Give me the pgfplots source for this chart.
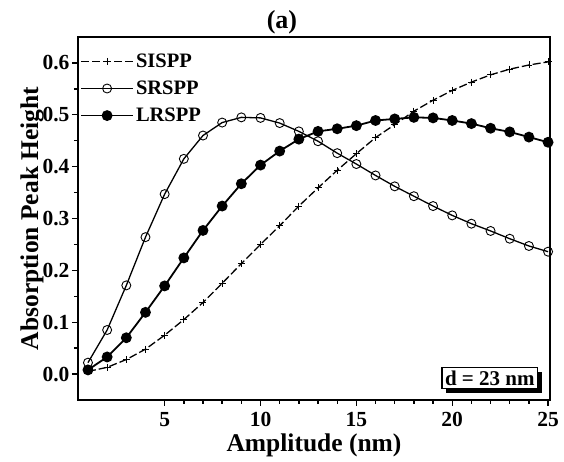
\documentclass[border=0pt]{standalone}
\usepackage{pgfplots}
\pgfplotsset{compat=1.18}
\usepackage{fontspec}
\setmainfont{Liberation Serif}
\usetikzlibrary{shadows}
\begin{document}
\begin{tikzpicture}
\path[use as bounding box] (-78pt,-62pt) rectangle (486pt,400pt);
\begin{axis}[
  at={(0pt,0pt)}, anchor=south west,
  scale only axis, width=472pt, height=363pt,
  xmin=0.48, xmax=25.1, ymin=-0.05, ymax=0.65,
  xtick={5,10,15,20,25}, minor x tick num=4,
  ytick={0,0.1,0.2,0.3,0.4,0.5,0.6}, minor y tick num=1,
  tick pos=left, tick align=outside,
  major tick length=6pt, minor tick length=4pt,
  axis line style={line width=1.8pt},
  every tick/.style={line width=1.4pt, black},
  /pgf/number format/assume math mode=true,
  yticklabel style={/pgf/number format/fixed, /pgf/number format/precision=1, /pgf/number format/fixed zerofill, xshift=1pt},
  xticklabel style={yshift=-3pt},
  ticklabel style={font=\fontsize{21.5}{21.5}\selectfont\bfseries},
  xlabel={Amplitude (nm)}, ylabel={Absorption Peak Height},
  label style={font=\fontsize{25.5}{25.5}\selectfont\bfseries},
  xlabel style={yshift=0pt},
  ylabel style={yshift=-8pt},
  title={(a)},
  title style={at={(0.432,1)}, font=\fontsize{26}{26}\selectfont\bfseries, yshift=-7pt},
  legend style={at={(0.0,0.965)}, anchor=north west, draw=none, fill=none,
    font=\fontsize{20.5}{20.5}\selectfont\bfseries, row sep=8pt, inner sep=2pt,
    nodes={inner xsep=2pt}},
  legend cell align=left,
  legend image code/.code={\draw[mark repeat=2,mark phase=2] plot coordinates {(0pt,0pt)(26pt,0pt)(52pt,0pt)};},
]
\addplot[black, line width=1.3pt, dash pattern=on 8pt off 3pt, mark=+, mark size=3.5pt, mark options={solid, line width=0.8pt}] coordinates {
(1,0.005)(2,0.013)(3,0.028)(4,0.048)(5,0.075)(6,0.105)(7,0.138)(8,0.175)(9,0.213)(10,0.25)(11,0.286)(12,0.324)(13,0.359)(14,0.393)(15,0.425)(16,0.456)(17,0.481)(18,0.507)(19,0.528)(20,0.547)(21,0.563)(22,0.577)(23,0.588)(24,0.596)(25,0.602)};
\addlegendentry{SISPP}
\addplot[black, line width=1.3pt, mark=o, mark size=4.5pt, mark options={solid, fill=white, line width=0.9pt}] coordinates {
(1,0.022)(2,0.085)(3,0.171)(4,0.264)(5,0.347)(6,0.415)(7,0.46)(8,0.485)(9,0.495)(10,0.494)(11,0.484)(12,0.468)(13,0.449)(14,0.426)(15,0.405)(16,0.383)(17,0.362)(18,0.343)(19,0.324)(20,0.306)(21,0.29)(22,0.276)(23,0.261)(24,0.247)(25,0.236)};
\addlegendentry{SRSPP}
\addplot[black, line width=1.8pt, mark=*, mark size=4.5pt, mark options={solid}] coordinates {
(1,0.008)(2,0.033)(3,0.07)(4,0.119)(5,0.17)(6,0.224)(7,0.277)(8,0.324)(9,0.367)(10,0.403)(11,0.43)(12,0.453)(13,0.468)(14,0.473)(15,0.479)(16,0.489)(17,0.492)(18,0.495)(19,0.494)(20,0.489)(21,0.483)(22,0.474)(23,0.467)(24,0.457)(25,0.447)};
\addlegendentry{LRSPP}
\node[draw, line width=1.2pt, fill=white, anchor=south east, inner sep=3pt,
  drop shadow={shadow xshift=4pt, shadow yshift=-4pt, opacity=1, fill=black},
  font=\fontsize{21}{21}\selectfont\bfseries] at (rel axis cs:0.975,0.03) {d = 23 nm};
\end{axis}
\end{tikzpicture}
\end{document}
